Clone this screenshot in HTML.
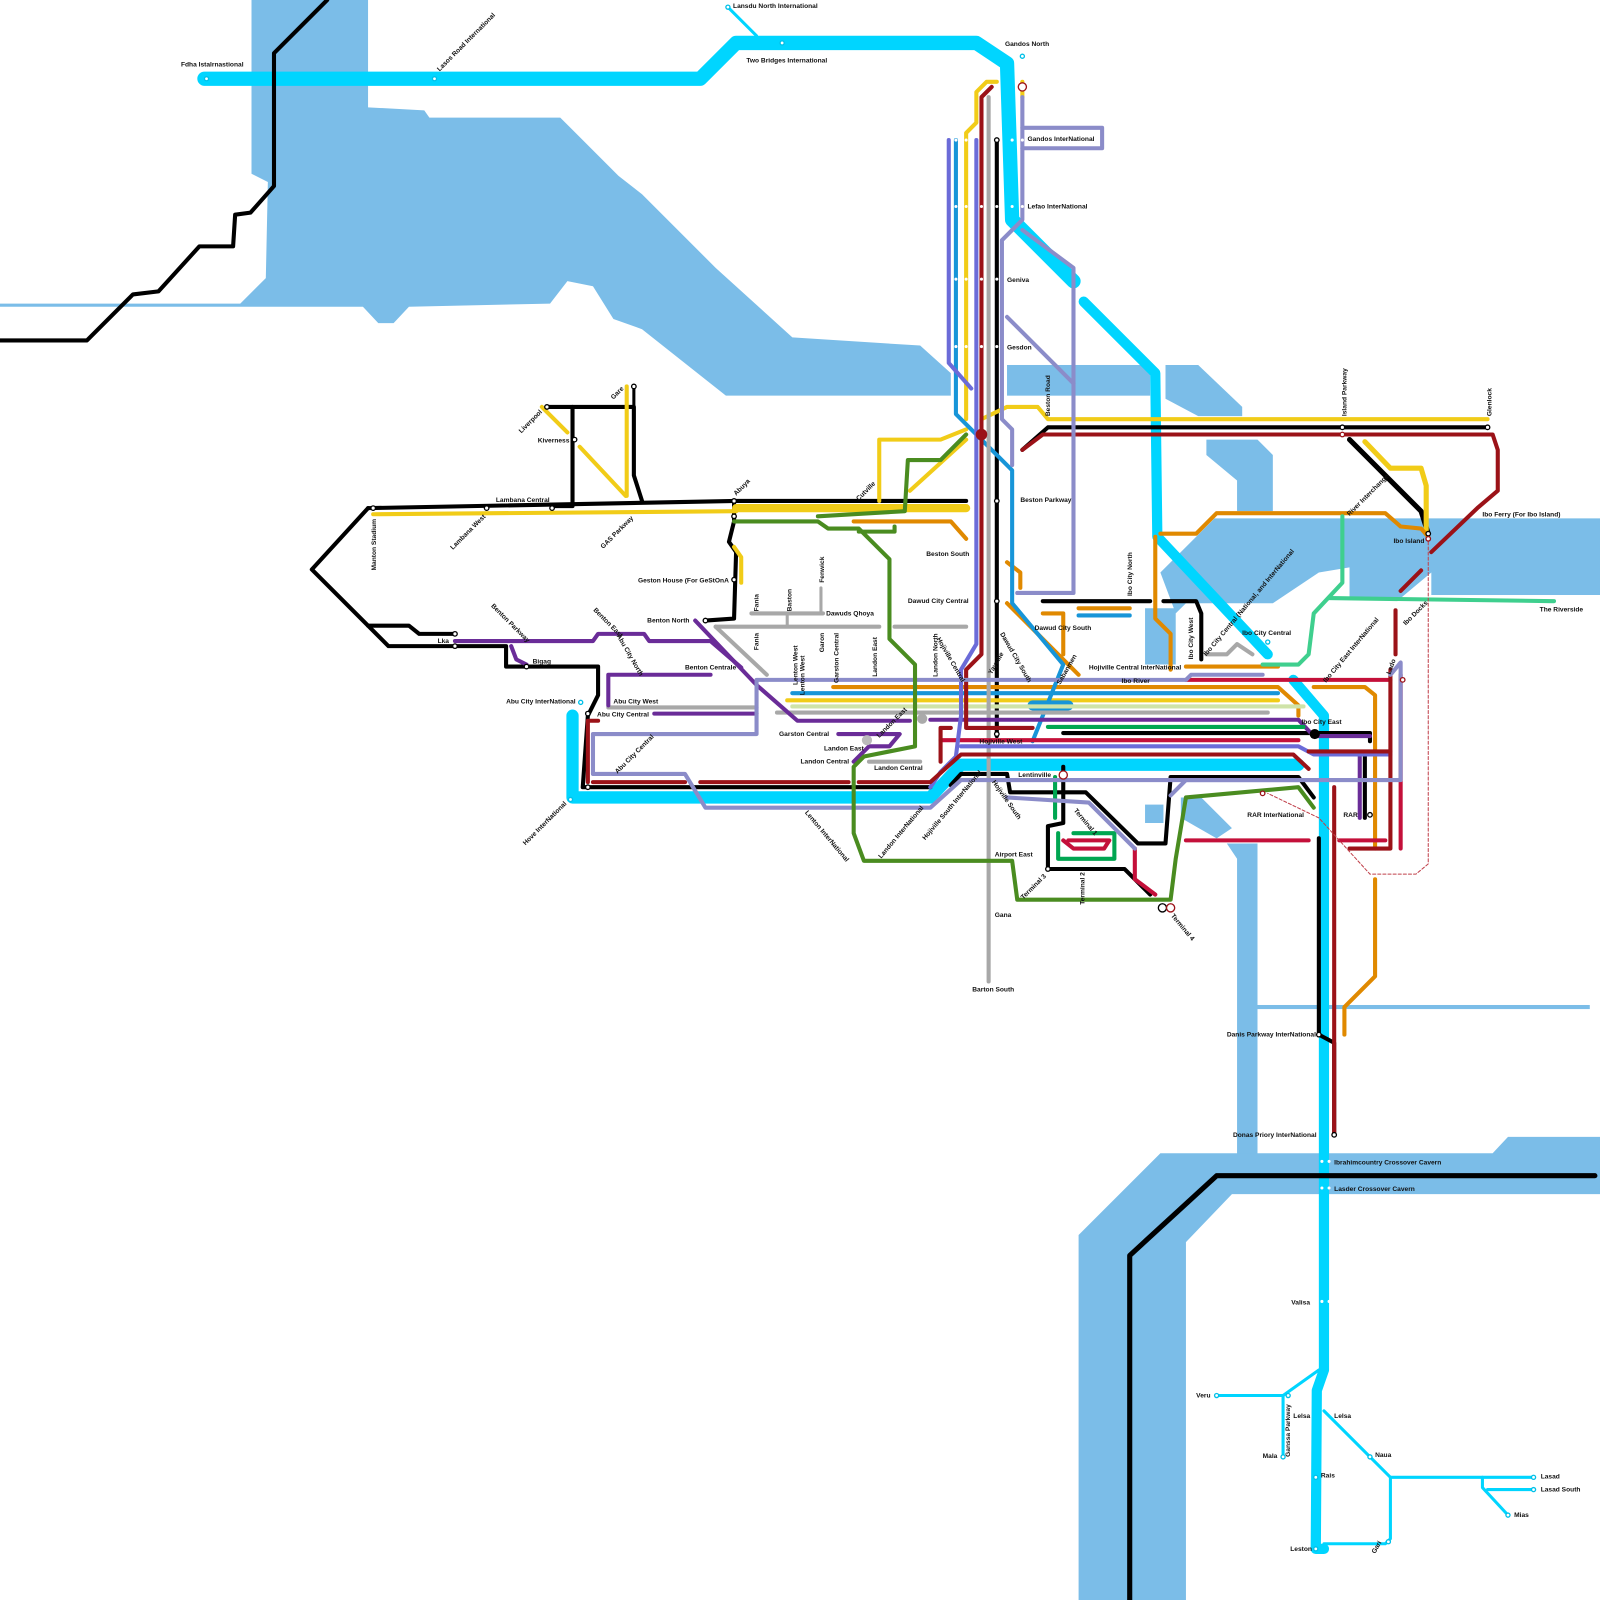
<!DOCTYPE html>
<html><head><meta charset="utf-8"><style>
html,body{margin:0;padding:0;background:#fff;width:1600px;height:1600px;overflow:hidden}
svg{display:block}
text{font-family:"Liberation Sans",sans-serif;font-weight:bold;font-size:6.5px;fill:#111}
.l{fill:none;stroke-linejoin:round;stroke-linecap:round}
.s{fill:#fff;stroke-width:1.3}
</style></head><body>
<svg width="1600" height="1600" viewBox="0 0 1565 1565" xmlns="http://www.w3.org/2000/svg">
<g fill="#7bbde8">
<polygon points="246,0 360,0 360,105 415,108 420,115 548,115 605,172 628,190 700,262 775,330 900,338 930,365 930,387 710,387 628,322 600,312 580,280 555,275 538,297 400,300 385,316 370,316 355,300 0,300 0,297 235,297 260,272 262,178 246,170"/>
<rect x="985" y="357" width="140" height="30"/>
<polygon points="1140,357 1172,357 1215,398 1215,407 1172,407 1140,390"/>
<polygon points="1180,430 1230,430 1245,445 1245,500 1210,500 1210,470 1180,445"/>
<polygon points="1135,560 1188,507 1565,507 1565,582 1400,582 1400,560 1370,585 1320,585 1320,555 1290,560 1245,590 1160,590 1150,600"/>
<polygon points="1120,595 1150,595 1150,650 1120,650"/>
<rect x="1120" y="787" width="18" height="18"/>
<polygon points="1155,780 1175,780 1205,810 1190,820 1155,800"/>
<polygon points="1200,825 1230,825 1230,1130 1210,1130 1210,840"/>
<rect x="1230" y="983" width="325" height="4"/>
<polygon points="1155,1128 1460,1128 1475,1112 1565,1112 1565,1168 1205,1168 1160,1215 1160,1565 1055,1565 1055,1208 1135,1128"/>
</g>
<g class="l">
<!-- cyan -->
<polyline stroke="#00d5ff" stroke-width="14" points="200,77 685,77 720,42 955,42 985,62 990,215 1050,275"/>
<polyline stroke="#00d5ff" stroke-width="10" points="1060,295 1130,365 1132,525 1240,640"/>
<polyline stroke="#00d5ff" stroke-width="3" points="712,7 740,35"/>
<polyline stroke="#00d5ff" stroke-width="12" points="560,700 560,780 910,780 940,748 1270,748"/>
<polyline stroke="#00d5ff" stroke-width="10" points="1265,665 1295,700 1295,1340 1288,1360 1287,1515 1295,1515"/>
<polyline stroke="#00d5ff" stroke-width="3" points="1190,1365 1255,1365 1290,1340"/>
<polyline stroke="#00d5ff" stroke-width="3" points="1255,1365 1255,1425"/>
<polyline stroke="#00d5ff" stroke-width="3" points="1295,1380 1360,1445 1500,1445"/>
<polyline stroke="#00d5ff" stroke-width="3" points="1360,1445 1360,1505 1355,1510 1295,1510"/>
<polyline stroke="#00d5ff" stroke-width="3" points="1450,1445 1450,1455 1475,1482"/>
<polyline stroke="#00d5ff" stroke-width="3" points="1455,1457 1500,1457"/>
<!-- black -->
<polyline stroke="#000" stroke-width="4" points="0,333 85,333 130,288 155,285 195,241 228,241 230,210 245,208 268,182 268,52 320,0"/>
<polyline stroke="#000" stroke-width="4" points="360,497 305,557 380,632 495,632 495,652 585,652 585,680 575,700 570,770 910,770"/>
<polyline stroke="#000" stroke-width="4" points="360,497 720,490 945,490"/>
<polyline stroke="#000" stroke-width="4" points="535,398 620,398 620,465 628,490"/>
<polyline stroke="#000" stroke-width="3" points="620,378 620,398"/>
<polyline stroke="#000" stroke-width="4" points="560,398 560,495 540,495"/>
<polyline stroke="#000" stroke-width="4" points="360,612 400,612 410,620 445,620"/>
<polyline stroke="#000" stroke-width="4" points="718,490 718,510 713,530 720,540 718,605 690,607"/>
<polyline stroke="#000" stroke-width="4" points="975,137 975,720"/>
<polyline stroke="#000" stroke-width="4" points="1020,588 1125,588"/>
<polyline stroke="#000" stroke-width="4" points="1138,588 1170,588 1175,600 1175,645"/>
<polyline stroke="#000" stroke-width="4" points="1000,440 1025,418 1455,418"/>
<polyline stroke="#000" stroke-width="5" points="1320,430 1390,500 1397,522"/>
<polyline stroke="#000" stroke-width="4" points="1040,717 1340,717 1340,725"/>
<polyline stroke="#000" stroke-width="4" points="930,768 940,757 985,757 988,775 1062,775 1113,825 1140,825 1145,760 1270,760 1285,780"/>
<polyline stroke="#000" stroke-width="4" points="1040,750 1040,805 1025,808 1025,850 1100,850 1125,875"/>
<polyline stroke="#000" stroke-width="4" points="1290,820 1290,1012 1305,1020 1305,1110"/>
<polyline stroke="#000" stroke-width="5" points="1105,1565 1105,1228 1190,1150 1560,1150"/>
<polyline stroke="#000" stroke-width="4" points="1335,740 1335,800"/>
<!-- yellow -->
<polyline stroke="#f1cc18" stroke-width="4" points="365,503 720,500"/>
<polyline stroke="#f1cc18" stroke-width="8" points="720,497 945,497"/>
<polyline stroke="#f1cc18" stroke-width="4" points="530,398 555,423"/>
<polyline stroke="#f1cc18" stroke-width="4" points="567,437 612,485"/>
<polyline stroke="#f1cc18" stroke-width="4" points="613,378 613,485"/>
<polyline stroke="#f1cc18" stroke-width="4" points="718,535 725,545 725,570"/>
<polyline stroke="#f1cc18" stroke-width="4" points="860,490 860,430 920,430 945,420"/>
<polyline stroke="#f1cc18" stroke-width="4" points="890,480 945,430"/>
<polyline stroke="#f1cc18" stroke-width="4" points="945,410 945,130 955,120 955,90 965,80 975,80"/>
<polyline stroke="#f1cc18" stroke-width="4" points="960,410 985,398 1015,398 1025,410 1455,410"/>
<polyline stroke="#f1cc18" stroke-width="5" points="1335,432 1360,458 1390,458 1395,475 1395,520"/>
<polyline stroke="#f1cc18" stroke-width="4" points="770,685 1250,685"/>
<polyline stroke="#f1cc18" stroke-width="4" points="1000,80 1000,95"/>
<!-- orange -->
<polyline stroke="#e08900" stroke-width="4" points="835,510 930,510 945,527"/>
<polyline stroke="#e08900" stroke-width="4" points="1135,522 1170,522 1190,502 1355,502 1370,515 1390,517 1397,525"/>
<polyline stroke="#e08900" stroke-width="4" points="1130,525 1130,605 1145,620 1145,655"/>
<polyline stroke="#e08900" stroke-width="4" points="985,590 1055,660"/>
<polyline stroke="#e08900" stroke-width="4" points="1020,600 1040,600 1040,640"/>
<polyline stroke="#e08900" stroke-width="4" points="985,550 998,560 998,575"/>
<polyline stroke="#e08900" stroke-width="4" points="1055,595 1105,595"/>
<polyline stroke="#e08900" stroke-width="4" points="1160,652 1250,652"/>
<polyline stroke="#e08900" stroke-width="4" points="815,672 1250,672 1270,690 1270,700"/>
<polyline stroke="#e08900" stroke-width="4" points="1285,672 1335,672 1345,680 1345,830"/>
<polyline stroke="#e08900" stroke-width="4" points="1345,860 1345,955 1315,985 1315,1012"/>
<!-- blue -->
<polyline stroke="#1795d8" stroke-width="4" points="935,137 935,405 990,460 990,590 1040,650 1010,725"/>
<polyline stroke="#1795d8" stroke-width="4" points="1055,602 1105,602"/>
<polyline stroke="#1795d8" stroke-width="4" points="775,678 1250,678"/>
<polyline stroke="#1795d8" stroke-width="10" points="1010,690 1045,690"/>
<!-- light green -->
<polyline stroke="#cfe3a8" stroke-width="4" points="775,691 1275,691"/>
<!-- gray -->
<polyline stroke="#a8a8a8" stroke-width="4" points="700,613 860,613"/>
<polyline stroke="#a8a8a8" stroke-width="4" points="875,613 945,613"/>
<polyline stroke="#a8a8a8" stroke-width="4" points="735,600 805,600"/>
<polyline stroke="#a8a8a8" stroke-width="3" points="803,575 803,600"/>
<polyline stroke="#a8a8a8" stroke-width="3" points="770,600 770,612"/>
<polyline stroke="#a8a8a8" stroke-width="4" points="967,95 967,960"/>
<polyline stroke="#a8a8a8" stroke-width="4" points="595,692 740,692"/>
<polyline stroke="#a8a8a8" stroke-width="4" points="700,613 750,660"/>
<polyline stroke="#a8a8a8" stroke-width="4" points="760,697 1240,697"/>
<polyline stroke="#a8a8a8" stroke-width="4" points="1180,640 1200,640 1210,630 1225,640"/>
<polyline stroke="#a8a8a8" stroke-width="4" points="850,745 900,745"/>
<!-- purple -->
<polyline stroke="#6a2c98" stroke-width="4" points="445,627 580,627 585,620 630,620 635,627 695,627 725,653"/>
<polyline stroke="#6a2c98" stroke-width="4" points="500,632 505,645 515,650"/>
<polyline stroke="#6a2c98" stroke-width="4" points="595,690 595,660 695,660"/>
<polyline stroke="#6a2c98" stroke-width="4" points="680,607 740,670 780,705 890,705"/>
<polyline stroke="#6a2c98" stroke-width="4" points="640,698 740,698"/>
<polyline stroke="#6a2c98" stroke-width="4" points="910,704 1270,704 1285,720 1340,720"/>
<polyline stroke="#6a2c98" stroke-width="4" points="835,745 850,730 870,730 880,718 820,718"/>
<polyline stroke="#6a2c98" stroke-width="4" points="1330,740 1330,800"/>
<!-- green -->
<polyline stroke="#00a651" stroke-width="4" points="1025,711 1275,711"/>
<polyline stroke="#00a651" stroke-width="4" points="1032,760 1032,800"/>
<polyline stroke="#00a651" stroke-width="4" points="1035,815 1035,840 1090,840 1090,815 1050,815"/>
<!-- crimson -->
<polyline stroke="#c4103a" stroke-width="4" points="920,724 1270,724"/>
<polyline stroke="#c4103a" stroke-width="4" points="1160,665 1360,665"/>
<polyline stroke="#c4103a" stroke-width="4" points="1370,660 1370,830"/>
<polyline stroke="#c4103a" stroke-width="4" points="1160,822 1280,822"/>
<polyline stroke="#c4103a" stroke-width="4" points="1310,822 1355,822"/>
<polyline stroke="#c4103a" stroke-width="4" points="1040,822 1050,830 1080,830 1085,822 1045,822"/>
<polyline stroke="#c4103a" stroke-width="4" points="1110,830 1110,860 1130,875"/>
<!-- periwinkle -->
<polyline stroke="#6b6bd8" stroke-width="4" points="928,137 928,355 950,380"/>
<polyline stroke="#6b6bd8" stroke-width="4" points="955,137 955,630 940,655 940,700 935,740 920,755 910,770"/>
<polyline stroke="#6b6bd8" stroke-width="4" points="940,730 1270,730 1285,738 1360,738"/>
<!-- dark red -->
<polyline stroke="#9b1218" stroke-width="4" points="970,85 960,95 960,640 945,655 945,712 1010,712"/>
<polyline stroke="#9b1218" stroke-width="4" points="1000,440 1020,425 1460,425 1465,440 1465,480 1445,497 1400,540"/>
<polyline stroke="#9b1218" stroke-width="4" points="1370,578 1390,558"/>
<polyline stroke="#9b1218" stroke-width="4" points="1365,597 1365,640"/>
<polyline stroke="#9b1218" stroke-width="4" points="1360,655 1360,830 1320,830"/>
<polyline stroke="#9b1218" stroke-width="4" points="1305,770 1305,1110"/>
<polyline stroke="#9b1218" stroke-width="4" points="575,765 575,705 585,705"/>
<polyline stroke="#9b1218" stroke-width="4" points="580,765 670,765"/>
<polyline stroke="#9b1218" stroke-width="4" points="685,765 830,765"/>
<polyline stroke="#9b1218" stroke-width="4" points="840,765 910,765 940,738 1265,738 1280,752"/>
<polyline stroke="#9b1218" stroke-width="4" points="1280,735 1360,735"/>
<polyline stroke="#9b1218" stroke-width="4" points="920,745 920,712 930,712"/>
<!-- lavender -->
<polyline stroke="#8b8cc9" stroke-width="4" points="1000,125 1078,125 1078,145 1000,145"/>
<polyline stroke="#8b8cc9" stroke-width="4" points="1000,95 1000,215 980,235 980,410 990,420 990,455"/>
<polyline stroke="#8b8cc9" stroke-width="4" points="1000,225 1050,262 1050,580 995,580"/>
<polyline stroke="#8b8cc9" stroke-width="4" points="985,310 1050,375"/>
<polyline stroke="#8b8cc9" stroke-width="4" points="580,757 580,718 740,718 740,665 1160,665 1165,660 1235,660"/>
<polyline stroke="#8b8cc9" stroke-width="4" points="1360,660 1370,648 1370,763 1160,763 1145,778"/>
<polyline stroke="#8b8cc9" stroke-width="4" points="580,757 670,757 690,790 910,790 940,763 1270,763"/>
<polyline stroke="#8b8cc9" stroke-width="4" points="985,780 1065,785 1110,830"/>
<!-- forest green -->
<polyline stroke="#4a8c20" stroke-width="4" points="718,510 800,510 810,517 840,517 870,547 870,625 895,650 895,730 870,735 845,740 835,750 835,815 845,842 990,842 995,880 1145,880 1150,840 1160,780 1270,770 1285,790"/>
<polyline stroke="#4a8c20" stroke-width="4" points="800,505 885,500 888,450 920,450 945,425"/>
<polyline stroke="#4a8c20" stroke-width="4" points="840,520 875,520 875,515"/>
<!-- mint -->
<polyline stroke="#3fcf8e" stroke-width="4" points="1313,505 1313,570 1285,600 1280,640 1270,650 1235,650"/>
<polyline stroke="#3fcf8e" stroke-width="4" points="1300,585 1520,588"/>
<!-- dashed -->
<polyline stroke="#c0404a" stroke-width="1" stroke-dasharray="3,2" points="1397,525 1397,845 1385,855 1340,855 1290,800 1240,776"/>
</g>
<!-- stations -->
<g class="s" stroke="#000">
<circle cx="365" cy="497" r="2.2"/><circle cx="476" cy="497" r="2.2"/><circle cx="540" cy="497" r="2.2"/><circle cx="535" cy="398" r="2.2"/><circle cx="562" cy="430" r="2.2"/><circle cx="620" cy="378" r="2.2"/><circle cx="718" cy="490" r="2.2"/><circle cx="718" cy="505" r="2.2"/><circle cx="718" cy="567" r="2.2"/><circle cx="690" cy="607" r="2.2"/><circle cx="445" cy="620" r="2.2"/><circle cx="445" cy="632" r="2.2"/><circle cx="515" cy="652" r="2.2"/><circle cx="575" cy="698" r="2.2"/><circle cx="575" cy="770" r="2.2"/><circle cx="975" cy="137" r="2.2"/><circle cx="975" cy="490" r="2.2"/><circle cx="975" cy="588" r="2.2"/><circle cx="975" cy="718" r="2.2"/><circle cx="1313" cy="418" r="2.2"/><circle cx="1455" cy="418" r="2.2"/><circle cx="1397" cy="522" r="2.2"/><circle cx="1290" cy="1012" r="2.2"/><circle cx="1305" cy="1110" r="2.2"/><circle cx="1340" cy="797" r="2.2"/><circle cx="1025" cy="850" r="2.2"/><circle cx="1137" cy="888" r="4"/><circle cx="1040" cy="757" r="2.2"/>
</g>
<g class="s" stroke="#9b1218"><circle cx="1000" cy="85" r="4"/><circle cx="960" cy="425" r="5" fill="#9b1218"/><circle cx="1040" cy="758" r="4"/><circle cx="1145" cy="888" r="4"/><circle cx="1235" cy="776" r="2.2"/><circle cx="1372" cy="665" r="2.2"/><circle cx="1397" cy="527" r="2.2"/><circle cx="1313" cy="425" r="2.2"/></g>
<g class="s" stroke="#00c0e8">
<circle cx="202" cy="77" r="2"/><circle cx="425" cy="77" r="2"/><circle cx="765" cy="42" r="2"/><circle cx="712" cy="7" r="2"/><circle cx="1000" cy="55" r="2"/><circle cx="568" cy="687" r="2"/><circle cx="558" cy="782" r="2"/><circle cx="1190" cy="1365" r="2"/><circle cx="1255" cy="1425" r="2"/><circle cx="1287" cy="1445" r="2"/><circle cx="1340" cy="1425" r="2"/><circle cx="1500" cy="1445" r="2"/><circle cx="1500" cy="1457" r="2"/><circle cx="1475" cy="1482" r="2"/><circle cx="1287" cy="1515" r="2"/><circle cx="1358" cy="1508" r="2"/><circle cx="1260" cy="1365" r="2"/><circle cx="1240" cy="628" r="2"/>
</g>
<g fill="#fff">
<circle cx="1293" cy="1136" r="1.5"/><circle cx="1300" cy="1136" r="1.5"/><circle cx="1293" cy="1162" r="1.5"/><circle cx="1300" cy="1162" r="1.5"/><circle cx="1293" cy="1273" r="1.5"/><circle cx="1300" cy="1273" r="1.5"/>
<circle cx="935" cy="202" r="1.5"/><circle cx="945" cy="202" r="1.5"/><circle cx="960" cy="202" r="1.5"/><circle cx="975" cy="202" r="1.5"/><circle cx="990" cy="202" r="1.5"/><circle cx="1000" cy="202" r="1.5"/>
<circle cx="935" cy="273" r="1.5"/><circle cx="945" cy="273" r="1.5"/><circle cx="960" cy="273" r="1.5"/><circle cx="975" cy="273" r="1.5"/>
<circle cx="935" cy="339" r="1.5"/><circle cx="945" cy="339" r="1.5"/><circle cx="960" cy="339" r="1.5"/><circle cx="975" cy="339" r="1.5"/>
<circle cx="935" cy="137" r="1.5"/><circle cx="945" cy="137" r="1.5"/><circle cx="990" cy="137" r="1.5"/><circle cx="1000" cy="137" r="1.5"/>
</g>
<g fill="#000"><circle cx="1286" cy="718" r="5"/><circle cx="902" cy="703" r="5" fill="#aaa"/><circle cx="848" cy="724" r="5" fill="#bbb"/></g>
<!-- labels -->
<text x="177" y="65">Fdha Istalrnastional</text>
<text x="430" y="70" transform="rotate(-45 430 70)">Lasos Road International</text>
<text x="717" y="8">Lansdu North International</text>
<text x="730" y="61">Two Bridges International</text>
<text x="983" y="45">Gandos North</text>
<text x="1005" y="138">Gandos InterNational</text>
<text x="1005" y="204">Lefao InterNational</text>
<text x="985" y="276">Geniva</text>
<text x="985" y="342">Gesdon</text>
<text x="1027" y="407" transform="rotate(-90 1027 407)">Beston Road</text>
<text x="1317" y="407" transform="rotate(-90 1317 407)">Island Parkway</text>
<text x="1459" y="407" transform="rotate(-90 1459 407)">Glenlock</text>
<text x="998" y="491">Beston Parkway</text>
<text x="906" y="544">Beston South</text>
<text x="888" y="590">Dawud City Central</text>
<text x="1012" y="616">Dawud City South</text>
<text x="1107" y="583" transform="rotate(-90 1107 583)">Ibo City North</text>
<text x="1167" y="645" transform="rotate(-90 1167 645)">Ibo City West</text>
<text x="1180" y="642" transform="rotate(-50 1180 642)">Ibo City Central (National, and InterNational</text>
<text x="1215" y="621">Ibo City Central</text>
<text x="1297" y="668" transform="rotate(-50 1297 668)">Ibo City East InterNational</text>
<text x="1065" y="655">Hojiville Central InterNational</text>
<text x="1097" y="668">Ibo River</text>
<text x="1273" y="708">Ibo City East</text>
<text x="1320" y="505" transform="rotate(-45 1320 505)">River Interchange</text>
<text x="1363" y="531">Ibo Island</text>
<text x="1450" y="505">Ibo Ferry (For Ibo Island)</text>
<text x="1375" y="612" transform="rotate(-45 1375 612)">Ibo Docks</text>
<text x="1506" y="598">The Riverside</text>
<text x="1360" y="660" transform="rotate(-70 1360 660)">Lado</text>
<text x="958" y="727">Hojiville West</text>
<text x="996" y="760">Lentinville</text>
<text x="1220" y="799">RAR InterNational</text>
<text x="1314" y="799">RAR</text>
<text x="973" y="838">Airport East</text>
<text x="973" y="897">Gana</text>
<text x="951" y="970">Barton South</text>
<text x="1050" y="793" transform="rotate(50 1050 793)">Terminal 1</text>
<text x="1061" y="885" transform="rotate(-90 1061 885)">Terminal 2</text>
<text x="1001" y="880" transform="rotate(-45 1001 880)">Terminal 3</text>
<text x="1145" y="896" transform="rotate(50 1145 896)">Terminal 4</text>
<text x="1200" y="1014">Danis Parkway InterNational</text>
<text x="1206" y="1112">Donas Priory InterNational</text>
<text x="1305" y="1139">Ibrahimcountry Crossover Cavern</text>
<text x="1305" y="1165">Lasder Crossover Cavern</text>
<text x="1263" y="1276">Valisa</text>
<text x="1170" y="1367">Veru</text>
<text x="1265" y="1387">Lelsa</text>
<text x="1305" y="1387">Lelsa</text>
<text x="1262" y="1425" transform="rotate(-90 1262 1425)">Ganssa Parkway</text>
<text x="1235" y="1426">Mala</text>
<text x="1292" y="1445">Rais</text>
<text x="1345" y="1425">Naua</text>
<text x="1507" y="1446">Lasad</text>
<text x="1507" y="1459">Lasad South</text>
<text x="1481" y="1484">Mias</text>
<text x="1262" y="1517">Leston</text>
<text x="1345" y="1520" transform="rotate(-60 1345 1520)">Gari</text>
<text x="368" y="558" transform="rotate(-90 368 558)">Manton Stadium</text>
<text x="485" y="491">Lambana Central</text>
<text x="443" y="538" transform="rotate(-45 443 538)">Lambana West</text>
<text x="510" y="424" transform="rotate(-45 510 424)">Liverpool</text>
<text x="526" y="433">Kiverness</text>
<text x="600" y="391" transform="rotate(-45 600 391)">Gare</text>
<text x="590" y="537" transform="rotate(-45 590 537)">GAS Parkway</text>
<text x="720" y="485" transform="rotate(-45 720 485)">Abuya</text>
<text x="840" y="490" transform="rotate(-45 840 490)">Cutville</text>
<text x="624" y="570">Geston House (For GeStOnA</text>
<text x="633" y="609">Benton North</text>
<text x="742" y="598" transform="rotate(-90 742 598)">Fania</text>
<text x="742" y="636" transform="rotate(-90 742 636)">Fania</text>
<text x="774" y="598" transform="rotate(-90 774 598)">Baston</text>
<text x="806" y="570" transform="rotate(-90 806 570)">Fenwick</text>
<text x="808" y="602">Dawuds Qhoya</text>
<text x="806" y="638" transform="rotate(-90 806 638)">Garon</text>
<text x="670" y="655">Benton Centrale</text>
<text x="480" y="593" transform="rotate(45 480 593)">Benton Parkway</text>
<text x="580" y="597" transform="rotate(45 580 597)">Benton East</text>
<text x="603" y="622" transform="rotate(60 603 622)">Abu City North</text>
<text x="428" y="629">Lka</text>
<text x="521" y="649">Bigag</text>
<text x="495" y="688">Abu City InterNational</text>
<text x="600" y="688">Abu City West</text>
<text x="584" y="701">Abu City Central</text>
<text x="604" y="757" transform="rotate(-45 604 757)">Abu City Central</text>
<text x="514" y="827" transform="rotate(-45 514 827)">Hove InterNational</text>
<text x="787" y="795" transform="rotate(50 787 795)">Lenton InterNational</text>
<text x="780" y="670" transform="rotate(-90 780 670)">Lenton West</text>
<text x="787" y="680" transform="rotate(-90 787 680)">Lenton West</text>
<text x="820" y="668" transform="rotate(-90 820 668)">Garston Central</text>
<text x="858" y="662" transform="rotate(-90 858 662)">Landon East</text>
<text x="917" y="662" transform="rotate(-90 917 662)">Landon North</text>
<text x="916" y="625" transform="rotate(60 916 625)">Hojiville Central</text>
<text x="970" y="660" transform="rotate(-60 970 660)">Yayville</text>
<text x="978" y="620" transform="rotate(60 978 620)">Dawud City South</text>
<text x="1037" y="670" transform="rotate(-60 1037 670)">Sabanmen</text>
<text x="762" y="720">Garston Central</text>
<text x="806" y="734">Landon East</text>
<text x="783" y="747">Landon Central</text>
<text x="855" y="753">Landon Central</text>
<text x="860" y="722" transform="rotate(-45 860 722)">Landon East</text>
<text x="862" y="840" transform="rotate(-50 862 840)">Landon InterNational</text>
<text x="905" y="822" transform="rotate(-50 905 822)">Hojiville South InterNational</text>
<text x="970" y="765" transform="rotate(55 970 765)">Hojiville South</text>
</svg>
</body></html>
